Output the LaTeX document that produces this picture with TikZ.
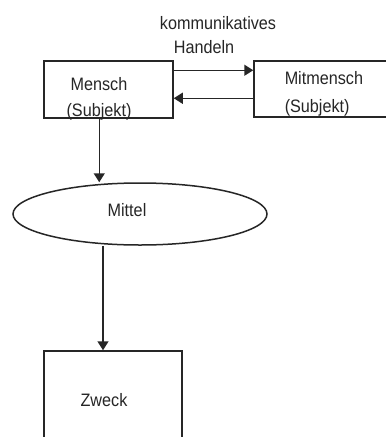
\documentclass[tikz,border=0pt]{standalone}
\usepackage{fontspec}
\usepackage{graphicx}
\setmainfont{Liberation Sans}
\usetikzlibrary{shapes.geometric,arrows.meta,calc}
\newcommand\narrowtext[1]{\scalebox{0.9}[1]{#1}}
\begin{document}
\begin{tikzpicture}[x=1pt,y=-1pt,
  line width=1.5pt,
  every node/.style={font=\fontsize{18}{21}\selectfont, text=black!85, inner sep=0pt},
  box/.style={draw=black!85, rectangle},
  oval/.style={draw=black!85, ellipse},
  arr/.style={draw=black!85, -{Triangle[length=9pt,width=11pt]}},
  lbl/.style={anchor=base}]
\clip (0,0) rectangle (386,437);
\fill[white] (0,0) rectangle (386,437);
% boxes
\node[box, minimum width=129pt, minimum height=57pt] (mensch) at (108.5,89.5) {};
\node[box, minimum width=146pt, minimum height=56pt] (mitmensch) at (327,89) {};
\node[oval, minimum width=254pt, minimum height=62pt] (mittel) at (140,214) {};
\node[box, minimum width=138pt, minimum height=99pt] (zweck) at (113,400.5) {};
% texts
\node[lbl] (t1) at (99,90) {\narrowtext{Mensch}};
\node[lbl] (t2) at (99,116) {\narrowtext{(Subjekt)}};
\node[lbl, anchor=base west] (t3) at (284,84) {\narrowtext{Mitmensch}};
\node[lbl, anchor=base west] (t4) at (284,112) {\narrowtext{(Subjekt)}};
\node[lbl] (t5) at (218,29) {\narrowtext{kommunikatives}};
\node[lbl] (t6) at (204,53) {\narrowtext{Handeln}};
\node[lbl] (t7) at (127,216) {\narrowtext{Mittel}};
\node[lbl] (t8) at (104,406) {\narrowtext{Zweck}};
% connectors
\draw[arr] ($(mensch.north east)+(0,10)$) -- ($(mitmensch.north west)+(0,10)$);
\draw[arr] ($(mitmensch.north west)+(0,38)$) -- ($(mensch.north east)+(0,38)$);
\coordinate (a1) at ($(mensch.south west)+(56,0)$);
\draw[arr] (a1) -- (a1 |- mittel.north);
\coordinate (a2) at ($(mittel.south)+(-37,0)$);
\draw[arr] (a2) -- (a2 |- zweck.north);
\end{tikzpicture}
\end{document}
